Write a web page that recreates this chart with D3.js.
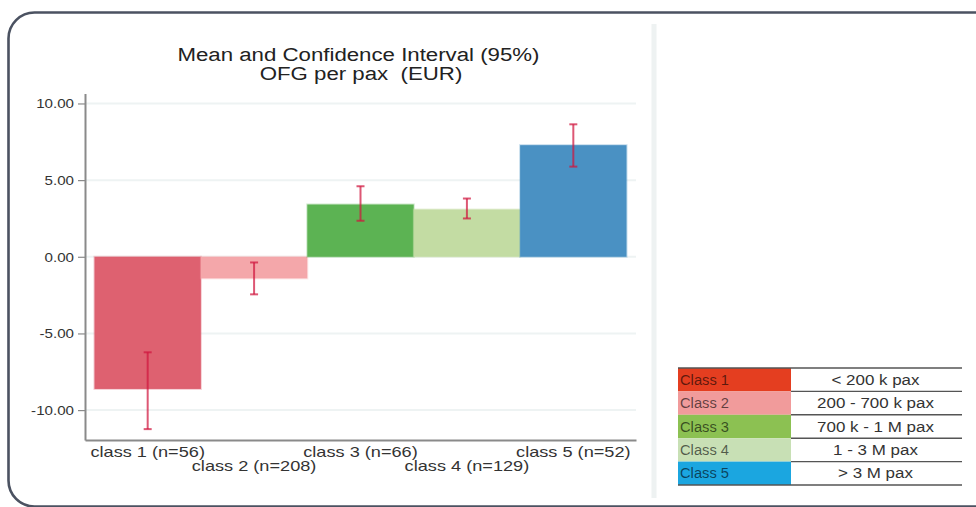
<!DOCTYPE html>
<html>
<head>
<meta charset="utf-8">
<script src="https://cdn.jsdelivr.net/npm/d3@7"></script>
<style>
  html, body { margin: 0; padding: 0; background: #fff; }
  svg { display: block; font-family: "Liberation Sans", Arial, sans-serif; }
</style>
</head>
<body>
<svg id="chart" width="976" height="507"></svg>
<script>
// ---------- data ----------
const categories = ["class 1 (n=56)", "class 2 (n=208)", "class 3 (n=66)", "class 4 (n=129)", "class 5 (n=52)"];
const means      = [-8.62, -1.41, 3.41, 3.09, 7.28];
const ciLow      = [-11.24, -2.45, 2.35, 2.50, 5.88];
const ciHigh     = [-6.23, -0.37, 4.60, 3.80, 8.64];
const yTicks     = [-10, -5, 0, 5, 10];
const titleLines = ["Mean and Confidence Interval (95%)", "OFG per pax  (EUR)"];
const legendClasses = ["Class 1", "Class 2", "Class 3", "Class 4", "Class 5"];
const legendRanges  = ["< 200 k pax", "200 - 700 k pax", "700 k - 1 M pax", "1 - 3 M pax", "> 3 M pax"];

// ---------- styles ----------
const barColors    = ["#de6170", "#f4a7aa", "#5cb353", "#c3dca3", "#4a91c3"];
const legendColors = ["#e43e20", "#f19b9b", "#8cc152", "#c8e0b5", "#1ba6e0"];
const SX = 1.21; // horizontal text stretch seen in the reference

const svg = d3.select("#chart");

function stretch(sel, factor) {
  sel.each(function () {
    const w = this.getComputedTextLength();
    d3.select(this).attr("textLength", w * factor).attr("lengthAdjust", "spacingAndGlyphs");
  });
}

// card
svg.append("rect")
  .attr("x", 8.5).attr("y", 12.5).attr("width", 1000).attr("height", 494)
  .attr("rx", 26).attr("ry", 26)
  .attr("fill", "#fff").attr("stroke", "#4b5261").attr("stroke-width", 2.6);

// separator
svg.append("line")
  .attr("x1", 654).attr("x2", 654).attr("y1", 24).attr("y2", 498)
  .attr("stroke", "#eef2f2").attr("stroke-width", 5);

// scales
const y = d3.scaleLinear().domain([-11.95, 10.65]).range([440, 93.5]);
const x = d3.scaleBand().domain(categories).range([85, 636]).paddingInner(0).paddingOuter(0.089);

// gridlines
svg.append("g").selectAll("line").data(yTicks).join("line")
  .attr("x1", 86).attr("x2", 636)
  .attr("y1", d => y(d)).attr("y2", d => y(d))
  .attr("stroke", "#eef3f3").attr("stroke-width", 2);

// title
svg.append("g").selectAll("text").data(titleLines).join("text")
  .attr("x", (d, i) => i === 0 ? 358.5 : 361)
  .attr("y", (d, i) => i === 0 ? 60.5 : 80)
  .attr("text-anchor", "middle")
  .style("white-space", "pre")
  .attr("font-size", 18).attr("fill", "#222")
  .text(d => d)
  .call(stretch, 1.235);

// bars
svg.append("g").selectAll("rect").data(categories).join("rect")
  .attr("x", d => x(d))
  .attr("width", x.bandwidth())
  .attr("y", (d, i) => Math.min(y(means[i]), y(0)))
  .attr("height", (d, i) => Math.abs(y(means[i]) - y(0)))
  .attr("fill", (d, i) => barColors[i])
  .attr("stroke", (d, i) => barColors[i]).attr("stroke-opacity", 0.3).attr("stroke-width", 2);

// error bars
const eb = svg.append("g").attr("stroke", "#d0163f").attr("stroke-opacity", 0.72).attr("stroke-width", 2);
categories.forEach((c, i) => {
  const cx = x(c) + x.bandwidth() / 2;
  eb.append("line").attr("x1", cx).attr("x2", cx).attr("y1", y(ciLow[i])).attr("y2", y(ciHigh[i]));
  eb.append("line").attr("x1", cx - 4).attr("x2", cx + 4).attr("y1", y(ciLow[i])).attr("y2", y(ciLow[i]));
  eb.append("line").attr("x1", cx - 4).attr("x2", cx + 4).attr("y1", y(ciHigh[i])).attr("y2", y(ciHigh[i]));
});

// y axis
const loc = d3.formatLocale({decimal: ".", thousands: ",", grouping: [3], currency: ["", ""], minus: "-"});
const fmt = loc.format(".2f");
const yAxis = svg.append("g").attr("transform", "translate(85,0)")
  .call(d3.axisLeft(y).tickValues(yTicks).tickFormat(fmt).tickSizeInner(7).tickSizeOuter(0).tickPadding(4));
yAxis.select(".domain").attr("stroke", "#8a8a8a").attr("stroke-width", 2);
yAxis.selectAll(".tick line").attr("stroke", "#8a8a8a").attr("stroke-width", 1.2);
yAxis.selectAll(".tick text").attr("font-size", 13.5).attr("fill", "#333")
  .attr("font-family", "'Liberation Sans', Arial, sans-serif")
  .call(stretch, 1.12);

// x axis
const xAxis = svg.append("g").attr("transform", "translate(0,440)")
  .call(d3.axisBottom(x).tickSize(0).tickPadding(0));
xAxis.select(".domain").attr("stroke", "#8a8a8a").attr("stroke-width", 2);
xAxis.selectAll(".tick text")
  .attr("font-size", 15).attr("fill", "#333")
  .attr("font-family", "'Liberation Sans', Arial, sans-serif")
  .attr("dy", null)
  .attr("y", (d, i) => i % 2 === 0 ? 17 : 31)
  .call(stretch, SX);

// legend table
const lx0 = 678, lx1 = 791, lx2 = 962, ly0 = 368, rowH = 23.4;
const lg = svg.append("g");
lg.selectAll("rect.sw").data(legendClasses).join("rect").attr("class", "sw")
  .attr("x", lx0).attr("width", lx1 - lx0)
  .attr("y", (d, i) => ly0 + i * rowH).attr("height", rowH)
  .attr("fill", (d, i) => legendColors[i]);
lg.selectAll("text.cl").data(legendClasses).join("text").attr("class", "cl")
  .attr("x", lx0 + 2).attr("y", (d, i) => ly0 + i * rowH + rowH / 2 + 5)
  .attr("font-size", 14).attr("fill", "#000").attr("fill-opacity", 0.6)
  .text(d => d).call(stretch, 1.05);
lg.selectAll("text.rg").data(legendRanges).join("text").attr("class", "rg")
  .attr("x", (lx1 + lx2) / 2 - 1).attr("y", (d, i) => ly0 + i * rowH + rowH / 2 + 5)
  .attr("text-anchor", "middle")
  .attr("font-size", 14).attr("fill", "#333")
  .text(d => d).call(stretch, SX);
// row lines
const rowIdx = d3.range(legendClasses.length + 1);
lg.selectAll("line.rl").data(rowIdx).join("line").attr("class", "rl")
  .attr("x1", d => (d === 0 || d === legendClasses.length) ? lx0 : lx1).attr("x2", lx2)
  .attr("y1", d => ly0 + d * rowH).attr("y2", d => ly0 + d * rowH)
  .attr("stroke", "#555").attr("stroke-width", 1.4);
</script>
</body>
</html>
